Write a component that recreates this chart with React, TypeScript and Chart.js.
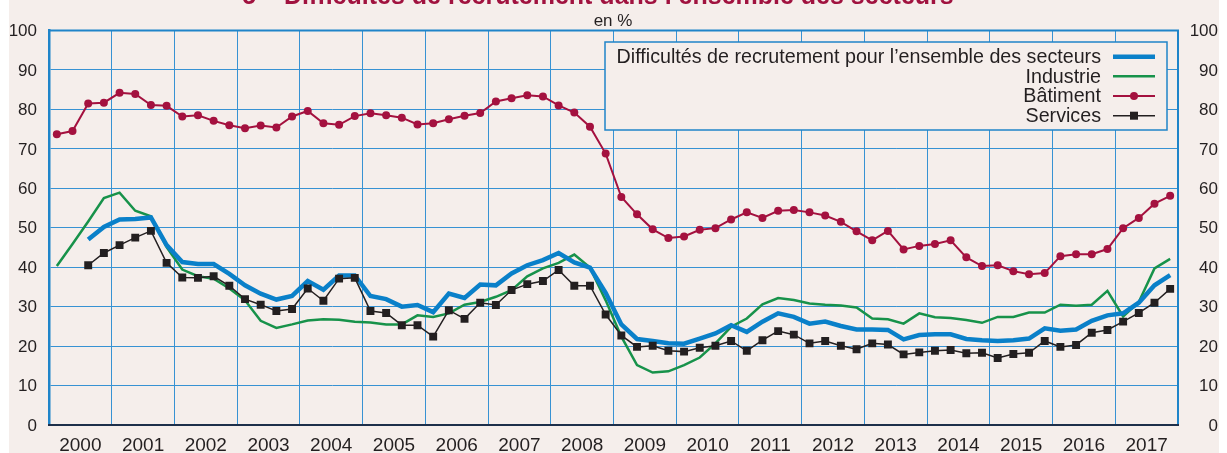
import React, { useEffect, useRef } from "react";
import { Chart, registerables } from "chart.js";

Chart.register(...registerables);

const TITLE = "5 – Difficultés de recrutement dans l’ensemble des secteurs";
const UNIT = "en %";
const YEARS = ["2000", "2001", "2002", "2003", "2004", "2005", "2006", "2007", "2008", "2009", "2010", "2011", "2012", "2013", "2014", "2015", "2016", "2017"];
const Y_TICKS = [0, 10, 20, 30, 40, 50, 60, 70, 80, 90, 100];
const SERIES_LABELS = ["Difficultés de recrutement pour l’ensemble des secteurs", "Industrie", "Bâtiment", "Services"];

// quarterly values, 2000 Q1 -> 2017 Q4
const DIFFICULTES = [null, null, 47.0, 50.2, 52.1, 52.2, 52.6, 45.6, 41.3, 40.8, 40.8, 38.3, 35.4, 33.3, 31.8, 32.7, 36.5, 34.3, 37.9, 37.9, 32.7, 31.9, 30.0, 30.4, 28.6, 33.3, 32.2, 35.6, 35.4, 38.4, 40.5, 41.8, 43.6, 41.2, 39.9, 33.5, 25.5, 21.8, 21.3, 20.7, 20.6, 21.9, 23.2, 25.3, 23.6, 26.2, 28.3, 27.4, 25.7, 26.2, 25.1, 24.2, 24.2, 24.1, 21.7, 22.8, 23.0, 23.0, 21.8, 21.5, 21.3, 21.5, 21.9, 24.5, 23.9, 24.2, 26.4, 27.8, 28.3, 31.0, 35.4, 38.0];
const INDUSTRIE = [40.3, 45.9, 51.6, 57.5, 58.9, 54.3, 52.9, 45.1, 39.4, 37.7, 37.1, 34.6, 31.6, 26.4, 24.6, 25.5, 26.5, 26.8, 26.7, 26.2, 26.0, 25.5, 25.5, 27.8, 27.4, 28.3, 30.5, 31.2, 32.5, 34.2, 37.7, 39.7, 41.1, 43.2, 39.9, 31.6, 22.4, 15.2, 13.3, 13.6, 15.2, 17.1, 20.7, 24.9, 27.0, 30.6, 32.2, 31.7, 30.8, 30.5, 30.3, 29.8, 27.0, 26.8, 25.7, 28.3, 27.3, 27.1, 26.6, 25.9, 27.4, 27.4, 28.5, 28.5, 30.5, 30.2, 30.5, 34.0, 27.5, 31.2, 39.7, 42.1];
const BATIMENT = [73.7, 74.5, 81.5, 81.7, 84.2, 83.9, 81.1, 80.9, 78.2, 78.5, 77.1, 76.0, 75.2, 75.9, 75.4, 78.2, 79.6, 76.5, 76.1, 78.3, 79.0, 78.5, 77.9, 76.2, 76.5, 77.5, 78.4, 79.1, 82.0, 82.8, 83.6, 83.3, 81.0, 79.2, 75.6, 68.8, 57.8, 53.4, 49.6, 47.4, 47.8, 49.5, 49.9, 52.1, 53.9, 52.5, 54.3, 54.5, 53.9, 53.1, 51.5, 49.1, 46.8, 49.2, 44.5, 45.4, 45.9, 46.8, 42.5, 40.3, 40.5, 39.0, 38.2, 38.5, 42.8, 43.3, 43.3, 44.6, 49.9, 52.5, 56.1, 58.1];
const SERVICES = [null, null, 40.5, 43.6, 45.6, 47.5, 49.2, 41.1, 37.4, 37.3, 37.7, 35.3, 31.9, 30.5, 28.9, 29.4, 34.6, 31.5, 37.1, 37.3, 28.9, 28.4, 25.3, 25.3, 22.4, 29.1, 26.9, 31.0, 30.4, 34.2, 35.7, 36.5, 39.3, 35.3, 35.3, 28.0, 22.7, 19.8, 20.1, 18.8, 18.6, 19.6, 20.1, 21.3, 18.8, 21.5, 23.8, 22.9, 20.7, 21.3, 20.1, 19.2, 20.7, 20.4, 17.9, 18.4, 18.8, 19.0, 18.2, 18.3, 17.0, 18.0, 18.3, 21.3, 19.8, 20.3, 23.4, 24.1, 26.2, 28.4, 31.0, 34.5];

const BG = "#f5eeeb";
const GRID = "#3792d3";
const FRAME = "#1f84c9";
const AXIS_DARK = "#1d2f4a";
const TEXT = "#231f20";
const TITLE_COLOR = "#a0123f";
const C_DIFF = "#0a80c9";
const C_IND = "#17924a";
const C_BAT = "#a4113f";
const C_SERV = "#231f20";
const FONT = '"Liberation Sans", Arial, Helvetica, sans-serif';

const toPoints = (arr: (number | null)[]) => arr.map((v, i) => ({ x: i + 0.5, y: v }));

const decorPlugin = {
  id: "decor",
  beforeDraw(chart: any) {
    const ctx = chart.ctx;
    ctx.save();
    ctx.fillStyle = "#ffffff";
    ctx.fillRect(0, 0, chart.width, chart.height);
    ctx.fillStyle = BG;
    ctx.fillRect(9, 0, 1210, chart.height);
    ctx.restore();
  },
  afterDraw(chart: any) {
    const ctx = chart.ctx;
    const a = chart.chartArea;
    const xs = chart.scales.x;
    const ys = chart.scales.y;
    ctx.save();
    // frame top & right
    ctx.strokeStyle = FRAME;
    ctx.lineWidth = 2;
    ctx.beginPath();
    ctx.moveTo(a.left, a.top);
    ctx.lineTo(a.right, a.top);
    ctx.lineTo(a.right, a.bottom);
    ctx.stroke();
    // bottom axis
    ctx.strokeStyle = AXIS_DARK;
    ctx.lineWidth = 2;
    ctx.beginPath();
    ctx.moveTo(a.left - 1, a.bottom);
    ctx.lineTo(a.right + 1, a.bottom);
    ctx.stroke();

    // y labels both sides
    ctx.fillStyle = TEXT;
    ctx.font = `17px ${FONT}`;
    ctx.textAlign = "right";
    ctx.textBaseline = "middle";
    Y_TICKS.forEach((v) => {
      const py = ys.getPixelForValue(v) + 1;
      ctx.fillText(String(v), 37, py);
      ctx.fillText(String(v), 1218, py);
    });

    // x labels at year centres
    ctx.font = `19px ${FONT}`;
    ctx.textAlign = "center";
    ctx.textBaseline = "alphabetic";
    YEARS.forEach((yr, k) => {
      ctx.fillText(yr, xs.getPixelForValue(k * 4 + 2), 451);
    });

    // title (cut at the top)
    ctx.fillStyle = TITLE_COLOR;
    ctx.font = `bold 25px ${FONT}`;
    ctx.fillText(TITLE, 598, 4);

    // unit
    ctx.fillStyle = TEXT;
    ctx.font = `17px ${FONT}`;
    ctx.fillText(UNIT, 613, 26);

    // legend box
    const bx = 605, by = 42, bw = 562, bh = 88;
    ctx.fillStyle = BG;
    ctx.fillRect(bx, by, bw, bh);
    ctx.strokeStyle = FRAME;
    ctx.lineWidth = 1.5;
    ctx.strokeRect(bx, by, bw, bh);

    const rows = [56.7, 76.3, 96, 115.7];
    ctx.font = `19.7px ${FONT}`;
    ctx.textAlign = "right";
    ctx.textBaseline = "middle";
    chart.data.datasets.forEach((ds: any, i: number) => {
      const ry = rows[i];
      ctx.fillStyle = TEXT;
      ctx.fillText(ds.label, 1101, ry + 1);
      ctx.strokeStyle = ds.borderColor;
      ctx.lineWidth = ds.borderWidth;
      ctx.beginPath();
      ctx.moveTo(1113, ry);
      ctx.lineTo(1155, ry);
      ctx.stroke();
      if (ds.pointRadius > 0) {
        ctx.fillStyle = ds.pointBackgroundColor;
        if (ds.pointStyle === "rect") {
          ctx.fillRect(1134 - 4, ry - 4, 8, 8);
        } else {
          ctx.beginPath();
          ctx.arc(1134, ry, ds.pointRadius, 0, Math.PI * 2);
          ctx.fill();
        }
      }
    });
    ctx.restore();
  },
};

export default function App() {
  const ref = useRef<HTMLCanvasElement | null>(null);
  useEffect(() => {
    if (!ref.current) return;
    const chart = new Chart(ref.current, {
      type: "line",
      data: {
        datasets: [
          {
            label: SERIES_LABELS[0],
            data: toPoints(DIFFICULTES),
            borderColor: C_DIFF,
            backgroundColor: C_DIFF,
            borderWidth: 4.5,
            pointRadius: 0,
            order: 2,
          },
          {
            label: SERIES_LABELS[1],
            data: toPoints(INDUSTRIE),
            borderColor: C_IND,
            backgroundColor: C_IND,
            borderWidth: 2.5,
            pointRadius: 0,
            order: 3,
          },
          {
            label: SERIES_LABELS[2],
            data: toPoints(BATIMENT),
            borderColor: C_BAT,
            backgroundColor: C_BAT,
            pointBackgroundColor: C_BAT,
            borderWidth: 2,
            pointRadius: 4,
            pointBorderWidth: 0,
            pointStyle: "circle",
            order: 1,
          },
          {
            label: SERIES_LABELS[3],
            data: toPoints(SERVICES),
            borderColor: C_SERV,
            backgroundColor: C_SERV,
            pointBackgroundColor: C_SERV,
            borderWidth: 1.5,
            pointRadius: 5.6,
            pointBorderWidth: 0,
            pointStyle: "rect",
            order: 0,
          },
        ] as any,
      },
      options: {
        responsive: false,
        animation: false,
        events: [],
        layout: { padding: { left: 49, right: 49, top: 30.5, bottom: 28 } },
        plugins: { legend: { display: false }, tooltip: { enabled: false }, title: { display: false } },
        elements: { line: { tension: 0 } },
        scales: {
          x: {
            type: "linear",
            min: 0,
            max: YEARS.length * 4,
            afterBuildTicks: (s: any) => {
              s.ticks = YEARS.map((_, k) => ({ value: k * 4 })).concat([{ value: YEARS.length * 4 }]);
            },
            afterFit: (s: any) => {
              s.height = 0;
            },
            ticks: { display: false },
            grid: { color: GRID, lineWidth: 1, drawTicks: false },
            border: { display: false },
          },
          y: {
            type: "linear",
            min: 0,
            max: 100,
            afterBuildTicks: (s: any) => {
              s.ticks = Y_TICKS.map((v) => ({ value: v }));
            },
            afterFit: (s: any) => {
              s.width = 0;
            },
            ticks: { display: false },
            grid: { color: GRID, lineWidth: 1, drawTicks: false },
            border: { display: true, color: FRAME, width: 2.5 },
          },
        },
      } as any,
      plugins: [decorPlugin],
    });
    return () => chart.destroy();
  }, []);
  return (
    <canvas
      ref={ref}
      width={1227}
      height={453}
      style={{ position: "absolute", left: 0, top: 0, width: 1227, height: 453, display: "block" }}
    />
  );
}
